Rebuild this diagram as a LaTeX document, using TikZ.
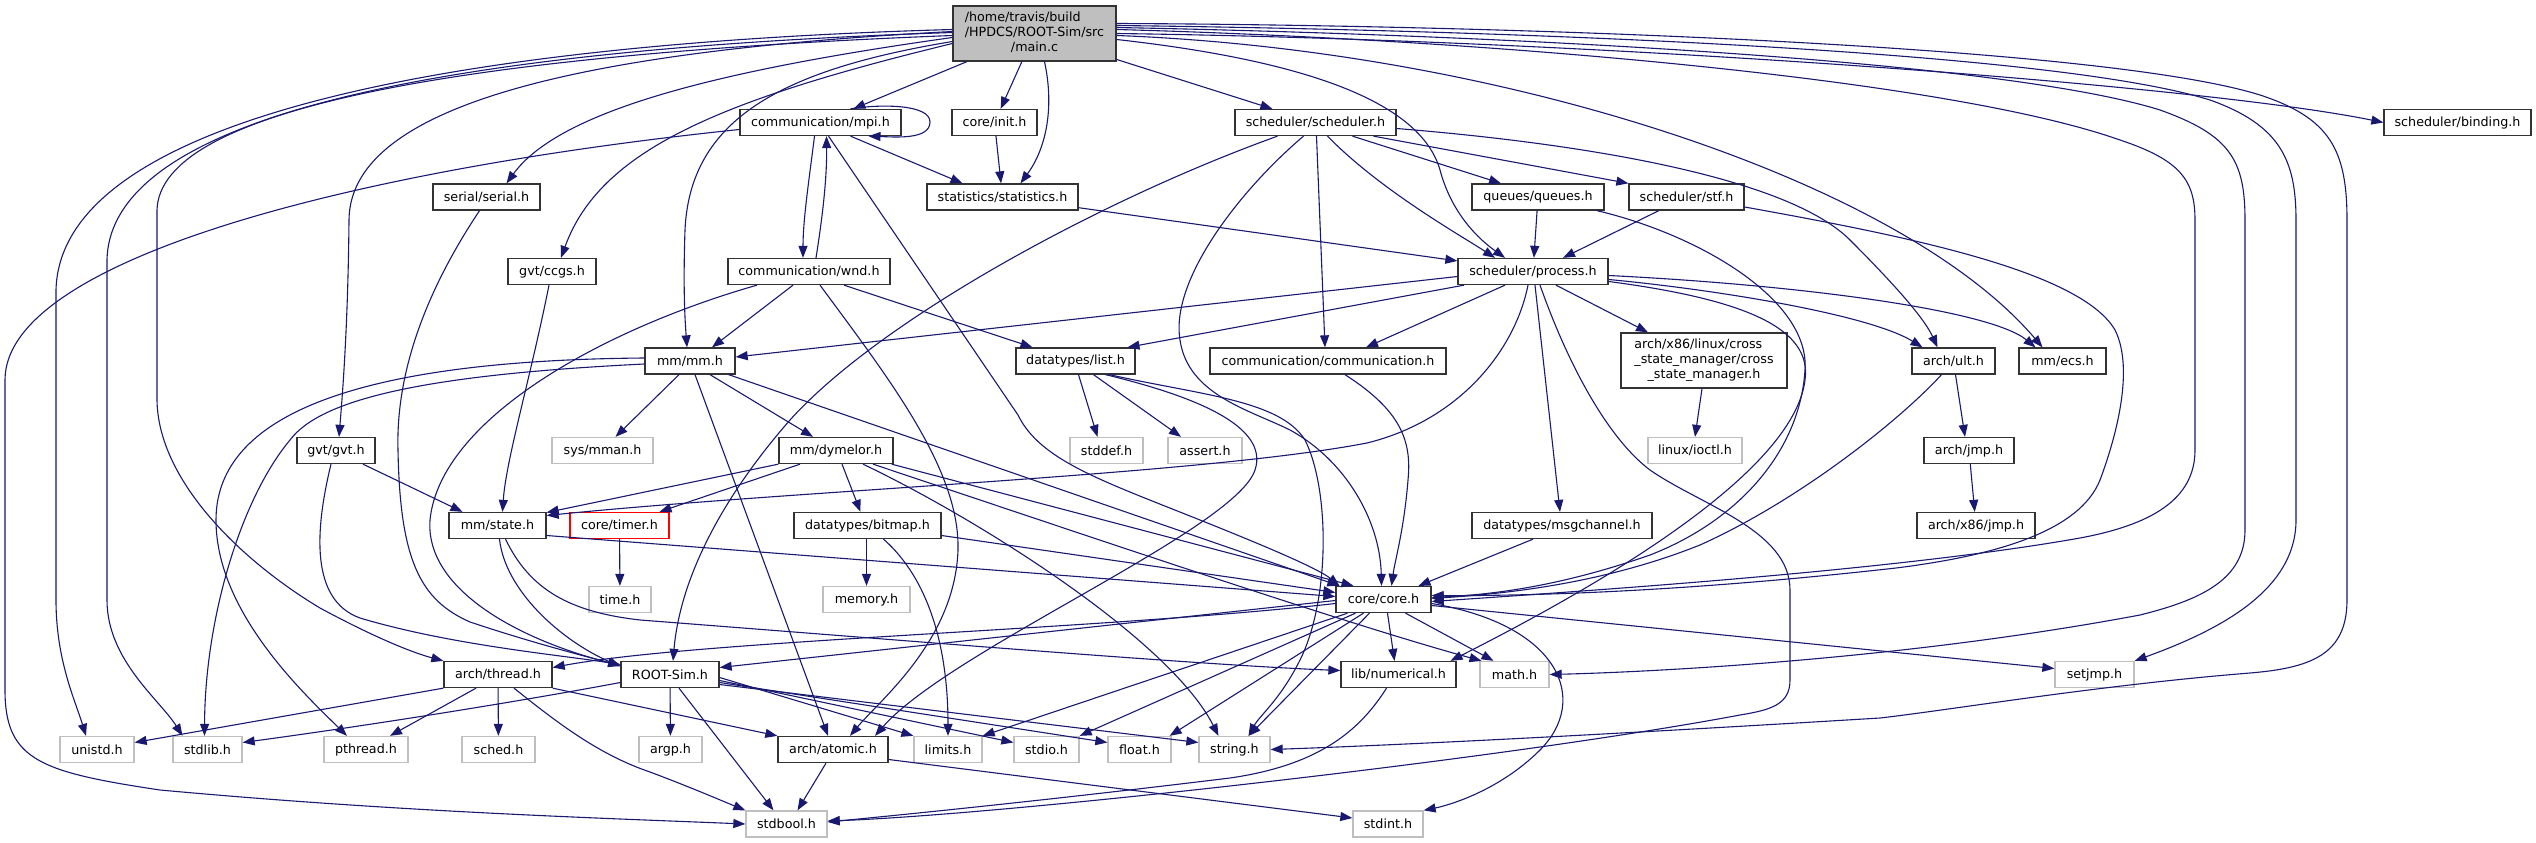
\documentclass[tikz,border=0pt]{standalone}
\usepackage{fontspec}
\setmainfont{DejaVu Sans}
\usetikzlibrary{arrows.meta}
\definecolor{edgecol}{HTML}{191970}
\definecolor{boxgray}{HTML}{BFBFBF}
\begin{document}
\begin{tikzpicture}[x=1pt,y=-1pt,
  box/.style={draw=black!80, line width=1.3pt, fill=white, rectangle, inner xsep=4pt, inner ysep=0pt,
    minimum height=26pt, font=\fontsize{12.7pt}{14.7pt}\selectfont, text=black},
  sys/.style={box, draw=boxgray},
  redbox/.style={box, draw=red},
  edge/.style={draw=edgecol, line width=1.1pt, -{Triangle[length=12pt,width=9pt]}}]
\fill[white] (0,0) rectangle (2536,843);
\useasboundingbox (0,0) rectangle (2536,843);

% ---------------- nodes ----------------
\node[box, fill=boxgray, minimum width=163pt, minimum height=55pt] (main) at (1034.5,33.5)
  {\begin{tabular}{@{}l@{}}/home/travis/build\\/HPDCS/ROOT-Sim/src\\\multicolumn{1}{@{}c@{}}{/main.c}\end{tabular}};
\node[box, minimum width=161pt] (mpi) at (820.5,122.5) {communication/mpi.h};
\node[box, minimum width=85pt] (init) at (994.5,122.5) {core/init.h};
\node[box, minimum width=161pt] (sched) at (1315.5,122.5) {scheduler/scheduler.h};
\node[box, minimum width=147pt] (binding) at (2457.5,122.5) {scheduler/binding.h};
\node[box, minimum width=107pt] (serial) at (486.5,197) {serial/serial.h};
\node[box, minimum width=151pt] (stats) at (1002.5,197) {statistics/statistics.h};
\node[box, minimum width=132pt] (queues) at (1538,197) {queues/queues.h};
\node[box, minimum width=115pt] (stf) at (1686.5,197) {scheduler/stf.h};
\node[box, minimum width=88pt] (ccgs) at (552,271.5) {gvt/ccgs.h};
\node[box, minimum width=162pt] (wnd) at (809,271.5) {communication/wnd.h};
\node[box, minimum width=150pt] (process) at (1533,271.5) {scheduler/process.h};
\node[box, minimum width=90pt] (mm) at (690,361) {mm/mm.h};
\node[box, minimum width=119pt] (list) at (1075.5,361) {datatypes/list.h};
\node[box, minimum width=236pt] (comm) at (1328,361) {communication/communication.h};
\node[box, minimum width=166pt, minimum height=55pt] (csm) at (1704,360.5)
  {\begin{tabular}{@{}l@{}}arch/x86/linux/cross\\\_state\_manager/cross\\\multicolumn{1}{@{}c@{}}{\_state\_manager.h}\end{tabular}};
\node[box, minimum width=83pt] (ult) at (1953.5,361) {arch/ult.h};
\node[box, minimum width=87pt] (ecs) at (2062.5,361) {mm/ecs.h};
\node[box, minimum width=78pt] (gvt) at (336,450.5) {gvt/gvt.h};
\node[sys, minimum width=101pt] (mman) at (602.5,450.5) {sys/mman.h};
\node[box, minimum width=114pt] (dymelor) at (836,450.5) {mm/dymelor.h};
\node[sys, minimum width=73pt] (stddef) at (1106.5,450.5) {stddef.h};
\node[sys, minimum width=74pt] (assert) at (1205,450.5) {assert.h};
\node[sys, minimum width=94pt] (ioctl) at (1695,450.5) {linux/ioctl.h};
\node[box, minimum width=90pt] (jmp) at (1969,450.5) {arch/jmp.h};
\node[box, minimum width=97pt] (state) at (497.5,525.5) {mm/state.h};
\node[redbox, minimum width=99pt] (timer) at (619.5,525.5) {core/timer.h};
\node[box, minimum width=147pt] (bitmap) at (867.5,525.5) {datatypes/bitmap.h};
\node[box, minimum width=180pt] (msgch) at (1562,525.5) {datatypes/msgchannel.h};
\node[box, minimum width=118pt] (x86jmp) at (1976,525.5) {arch/x86/jmp.h};
\node[sys, minimum width=62pt] (time) at (620,599.5) {time.h};
\node[sys, minimum width=87pt] (memory) at (866.5,599.5) {memory.h};
\node[box, minimum width=95pt] (core) at (1383.5,599.5) {core/core.h};
\node[box, minimum width=108pt] (thread) at (498,674.5) {arch/thread.h};
\node[box, minimum width=98pt] (rootsim) at (670,674.5) {ROOT-Sim.h};
\node[box, minimum width=115pt] (numerical) at (1398.5,674.5) {lib/numerical.h};
\node[sys, minimum width=69pt] (math) at (1514.5,674.5) {math.h};
\node[sys, minimum width=79pt] (setjmp) at (2094.5,674.5) {setjmp.h};
\node[sys, minimum width=74pt] (unistd) at (97,749.5) {unistd.h};
\node[sys, minimum width=69pt] (stdlib) at (207.5,749.5) {stdlib.h};
\node[sys, minimum width=84pt] (pthread) at (366,749.5) {pthread.h};
\node[sys, minimum width=73pt] (schedh) at (498.5,749.5) {sched.h};
\node[sys, minimum width=63pt] (argp) at (670.5,749.5) {argp.h};
\node[box, minimum width=110pt] (atomic) at (833,749.5) {arch/atomic.h};
\node[sys, minimum width=68pt] (limits) at (948,749.5) {limits.h};
\node[sys, minimum width=65pt] (stdio) at (1046.5,749.5) {stdio.h};
\node[sys, minimum width=63pt] (floath) at (1139.5,749.5) {float.h};
\node[sys, minimum width=71pt] (string) at (1234.5,749.5) {string.h};
\node[sys, minimum width=81pt] (stdbool) at (786.5,824) {stdbool.h};
\node[sys, minimum width=70pt] (stdint) at (1388,824) {stdint.h};

% ---------------- edges ----------------
% main.c
\draw[edge] (main) -- (mpi);
\draw[edge] (main) -- (init);
\draw[edge] ([xshift=10pt]main.south) .. controls (1055,110) and (1045,150) .. ([xshift=18pt]stats.north);
\draw[edge] (main) -- (sched);
\draw[edge] (main.east) .. controls (1600,40) and (2200,85) .. (binding.west);
\draw[edge] ([yshift=-6pt]main.east) .. controls (1300,60) and (1420,100) .. (1440,170) .. controls (1452,215) and (1480,240) .. ([xshift=-28pt]process.north);
\draw[edge] ([yshift=-8pt]main.west) .. controls (780,70) and (690,120) .. (685,230) .. controls (683,290) and (685,320) .. ([xshift=-3pt]mm.north);
\draw[edge] ([yshift=-4pt]main.west) .. controls (720,70) and (560,110) .. ([xshift=20pt]serial.north);
\draw[edge] ([yshift=-10pt]main.west) .. controls (720,100) and (600,150) .. ([xshift=9pt]ccgs.north);
\draw[edge] ([yshift=2pt]main.west) .. controls (600,50) and (350,100) .. (349,220) .. controls (348,330) and (342,400) .. ([xshift=3pt]gvt.north);
\draw[edge] ([yshift=-2pt]main.west) .. controls (450,55) and (160,110) .. (157,210) -- (157,400) .. controls (158,480) and (240,560) .. (320,608) .. controls (370,635) and (410,652) .. (thread.north west);
\draw[edge] ([yshift=4pt]main.west) .. controls (400,45) and (60,130) .. (56,290) -- (56,600) .. controls (56,660) and (75,700) .. ([xshift=-11pt]unistd.north);
\draw[edge] ([yshift=1pt]main.west) .. controls (420,50) and (110,120) .. (107,260) -- (107,600) .. controls (107,660) and (160,700) .. ([xshift=-25pt]stdlib.north);
\draw[edge] ([yshift=-2pt]main.east) .. controls (1500,50) and (1900,180) .. ([xshift=-20pt]ecs.north);
\draw[edge] ([yshift=4pt]main.east) .. controls (1500,40) and (1950,80) .. (2120,140) .. controls (2180,160) and (2195,180) .. (2195,220) -- (2195,450) .. controls (2195,500) and (2150,525) .. (2080,538) .. controls (1900,570) and (1600,590) .. ([yshift=-2pt]core.east);
\draw[edge] ([yshift=6pt]main.east) .. controls (1500,35) and (2000,60) .. (2160,110) .. controls (2230,135) and (2245,160) .. (2245,220) -- (2245,530) .. controls (2245,580) and (2200,600) .. (2140,615) .. controls (1900,660) and (1650,672) .. (math.east);
\draw[edge] ([yshift=8pt]main.east) .. controls (1500,30) and (2050,50) .. (2210,100) .. controls (2280,125) and (2296,160) .. (2296,220) -- (2296,520) .. controls (2296,590) and (2220,630) .. (setjmp.north east);
\draw[edge] ([yshift=10pt]main.east) .. controls (1500,25) and (2100,45) .. (2260,95) .. controls (2330,118) and (2347,150) .. (2347,220) -- (2347,600) .. controls (2347,655) and (2310,668) .. (2250,673) .. controls (2100,685) and (1950,710) .. (1880,718) .. controls (1600,735) and (1400,745) .. (string.east);
% mpi
\draw[edge] ([xshift=30pt]mpi.north) .. controls (880,104) and (930,104) .. (930,122) .. controls (930,140) and (895,137) .. ([xshift=48pt]mpi.south);
\draw[edge] ([xshift=-6pt]mpi.south) .. controls (809,180) and (803,220) .. ([xshift=-6pt]wnd.north);
\draw[edge] ([xshift=7pt]wnd.north) .. controls (822,220) and (827,180) .. ([xshift=6pt]mpi.south);
\draw[edge] ([xshift=30pt]mpi.south) -- ([xshift=-40pt]stats.north);
\draw[edge] ([xshift=8pt]mpi.south) -- (1018,415) .. controls (1040,460) and (1100,480) .. (1200,520) .. controls (1280,552) and (1320,570) .. ([xshift=-44pt]core.north);
\draw[edge] ([yshift=-7pt]mpi.west) .. controls (350,170) and (5,260) .. (5,380) -- (5,690) .. controls (5,760) and (40,772) .. (160,790) .. controls (400,812) and (600,818) .. (stdbool.west);
% init, stats
\draw[edge] (init) -- (stats);
\draw[edge] (stats) -- (process);
% scheduler
\draw[edge] ([xshift=-38pt]sched.south) .. controls (1100,200) and (880,320) .. (790,420) .. controls (720,500) and (680,580) .. ([xshift=3pt]rootsim.north);
\draw[edge] ([xshift=-12pt]sched.south) .. controls (1240,190) and (1170,280) .. (1180,340) .. controls (1188,395) and (1250,410) .. (1290,430) .. controls (1345,460) and (1380,520) .. ([xshift=-2pt]core.north);
\draw[edge] ([xshift=1pt]sched.south) -- ([xshift=-3pt]comm.north);
\draw[edge] ([xshift=12pt]sched.south) .. controls (1380,190) and (1460,235) .. ([xshift=-38pt]process.north);
\draw[edge] ([xshift=37pt]sched.south) -- ([xshift=-37pt]queues.north);
\draw[edge] ([xshift=58pt]sched.south) -- (stf.north west);
\draw[edge] ([yshift=-6pt]sched.east) .. controls (1600,145) and (1790,180) .. (1850,240) .. controls (1900,290) and (1925,320) .. ([xshift=-16pt]ult.north);
% queues, stf
\draw[edge] (queues) -- (process);
\draw[edge] ([xshift=59pt]queues.south) .. controls (1700,235) and (1810,300) .. (1805,370) .. controls (1800,450) and (1740,520) .. (1650,555) .. controls (1550,590) and (1480,595) .. ([yshift=2pt]core.east);
\draw[edge] (stf) -- ([xshift=30pt]process.north);
\draw[edge] ([yshift=-10pt]stf.east) .. controls (1900,235) and (2080,270) .. (2115,330) .. controls (2135,370) and (2115,440) .. (2100,480) .. controls (2080,530) and (2000,555) .. (1896,568) .. controls (1700,590) and (1550,596) .. ([yshift=4pt]core.east);
% process
\draw[edge] ([yshift=-5pt]process.west) -- ([yshift=4pt]mm.east);
\draw[edge] ([xshift=-69pt]process.south) -- ([xshift=52pt]list.north);
\draw[edge] ([xshift=-28pt]process.south) -- ([xshift=38pt]comm.north);
\draw[edge] ([xshift=-5pt]process.south) .. controls (1515,350) and (1460,420) .. (1367,443) .. controls (1200,475) and (800,490) .. ([yshift=10pt]state.east);
\draw[edge] ([xshift=2pt]process.south) -- ([xshift=-2pt]msgch.north);
\draw[edge] ([xshift=23pt]process.south) -- ([xshift=-56pt]csm.north);
\draw[edge] ([yshift=-8pt]process.east) .. controls (1720,290) and (1870,315) .. ([xshift=-31pt]ult.north);
\draw[edge] ([yshift=-4pt]process.east) .. controls (1800,285) and (1990,310) .. ([xshift=-27pt]ecs.north);
\draw[edge] ([xshift=7pt]process.south) .. controls (1570,370) and (1610,440) .. (1650,470) .. controls (1700,505) and (1790,530) .. (1790,590) -- (1790,680) .. controls (1790,705) and (1770,710) .. (1740,715) .. controls (1500,760) and (1000,815) .. ([yshift=3pt]stdbool.east);
\draw[edge] ([yshift=-10pt]process.east) .. controls (1750,300) and (1812,330) .. (1805,380) .. controls (1795,460) and (1650,560) .. ([xshift=52pt]numerical.north);
% ult, jmp, csm
\draw[edge] ([xshift=-12pt]ult.south) .. controls (1900,420) and (1800,500) .. (1700,545) .. controls (1600,585) and (1500,594) .. ([yshift=1pt]core.east);
\draw[edge] ([xshift=2pt]ult.south) -- ([xshift=-4pt]jmp.north);
\draw[edge] (jmp) -- (x86jmp);
\draw[edge] ([xshift=-2pt]csm.south) -- (ioctl.north);
% comm, msgchannel
\draw[edge] ([xshift=17pt]comm.south) .. controls (1400,410) and (1412,440) .. (1408,480) .. controls (1404,530) and (1395,560) .. ([xshift=8pt]core.north);
\draw[edge] ([xshift=-29pt]msgch.south) -- ([xshift=35pt]core.north);
% list
\draw[edge] ([xshift=3pt]list.south) -- ([xshift=-9pt]stddef.north);
\draw[edge] ([xshift=18pt]list.south) -- ([xshift=-24pt]assert.north);
\draw[edge] ([xshift=30pt]list.south) .. controls (1190,395) and (1270,425) .. (1255,470) .. controls (1235,530) and (950,650) .. ([xshift=42pt]atomic.north);
\draw[edge] ([xshift=34pt]list.south) .. controls (1200,395) and (1280,400) .. (1305,440) .. controls (1330,490) and (1330,600) .. (1300,660) .. controls (1280,700) and (1260,715) .. ([xshift=14pt]string.north);
% wnd
\draw[edge] ([xshift=-52pt]wnd.south) .. controls (600,330) and (440,420) .. (430,520) .. controls (425,590) and (520,640) .. ([yshift=9pt]rootsim.west);
\draw[edge] ([xshift=-16pt]wnd.south) -- ([xshift=22pt]mm.north);
\draw[edge] ([xshift=35pt]wnd.south) -- ([xshift=-43pt]list.north);
\draw[edge] ([xshift=11pt]wnd.south) .. controls (890,380) and (960,470) .. (958,550) .. controls (955,640) and (880,700) .. ([xshift=17pt]atomic.north);
% mm
\draw[edge] ([xshift=-11pt]mm.south) -- ([xshift=13pt]mman.north);
\draw[edge] ([xshift=20pt]mm.south) -- ([xshift=-23pt]dymelor.north);
\draw[edge] ([xshift=5pt]mm.south) -- ([xshift=-5pt]atomic.north);
\draw[edge] ([xshift=-7pt]mm.south east) -- ([xshift=4pt]core.north west);
\draw[edge] ([yshift=3pt]mm.west) .. controls (400,360) and (216,400) .. (216,520) .. controls (216,610) and (300,690) .. ([xshift=-19pt]pthread.north);
\draw[edge] ([yshift=-3pt]mm.west) .. controls (420,375) and (320,400) .. (290,440) .. controls (240,500) and (205,620) .. ([xshift=-3pt]stdlib.north);
% gvt, serial, ccgs
\draw[edge] ([xshift=27pt]gvt.south) -- ([xshift=-35pt]state.north);
\draw[edge] ([xshift=-5pt]gvt.south) .. controls (315,530) and (310,600) .. (360,618) .. controls (450,645) and (560,655) .. ([yshift=10pt]rootsim.west);
\draw[edge] ([xshift=-7pt]serial.south) .. controls (420,300) and (396,380) .. (398,450) .. controls (400,560) and (420,600) .. (470,622) .. controls (530,642) and (580,655) .. ([yshift=9pt]rootsim.west);
\draw[edge] ([xshift=-3pt]ccgs.south) .. controls (530,380) and (506,460) .. ([xshift=5pt]state.north);
% state
\draw[edge] ([yshift=-10pt]state.east) -- ([yshift=3pt]core.west);
\draw[edge] ([xshift=2pt]state.south) .. controls (505,590) and (560,640) .. ([yshift=8pt]rootsim.west);
\draw[edge] ([xshift=8pt]state.south) .. controls (530,590) and (570,612) .. (640,620) .. controls (900,640) and (1200,665) .. ([yshift=4pt]numerical.west);
% dymelor
\draw[edge] (dymelor.south west) -- ([yshift=13pt]state.east);
\draw[edge] ([xshift=-36pt]dymelor.south) -- ([xshift=40pt]timer.north);
\draw[edge] ([xshift=6pt]dymelor.south) -- ([xshift=-7pt]bitmap.north);
\draw[edge] ([xshift=-2pt]dymelor.south east) -- ([xshift=-30pt]core.north);
\draw[edge] ([xshift=37pt]dymelor.south) .. controls (1100,540) and (1350,625) .. ([xshift=-33pt]math.north);
\draw[edge] ([xshift=27pt]dymelor.south) .. controls (980,520) and (1170,640) .. ([xshift=-16pt]string.north);
% timer, bitmap
\draw[edge] (timer) -- (time);
\draw[edge] ([xshift=-1pt]bitmap.south) -- (memory.north);
\draw[edge] ([xshift=16pt]bitmap.south) .. controls (930,580) and (948,650) .. (limits.north);
\draw[edge] ([yshift=-10pt]bitmap.east) -- ([yshift=7pt]core.west);
% core
\draw[edge] ([yshift=-1pt]core.west) -- ([yshift=7pt]rootsim.east);
\draw[edge] ([yshift=-4pt]core.west) .. controls (1100,630) and (700,640) .. ([yshift=7pt]thread.east);
\draw[edge] ([xshift=4pt]core.south) -- ([xshift=-4pt]numerical.north);
\draw[edge] ([xshift=22pt]core.south) -- ([xshift=-21pt]math.north);
\draw[edge] ([xshift=-36pt]core.south) -- (limits.north east);
\draw[edge] ([xshift=-28pt]core.south) -- (stdio.north east);
\draw[edge] ([xshift=-20pt]core.south) -- ([xshift=-2pt]floath.north east);
\draw[edge] ([xshift=-14pt]core.south) -- ([xshift=-22pt]string.north east);
\draw[edge] ([yshift=-6pt]core.east) -- ([yshift=6pt]setjmp.west);
\draw[edge] ([yshift=-4pt]core.east) .. controls (1560,625) and (1590,700) .. (1540,750) .. controls (1500,790) and (1450,805) .. (stdint.north east);
% ROOT-Sim
\draw[edge] (rootsim) -- (argp);
\draw[edge] ([xshift=9pt]rootsim.south) -- ([xshift=-13pt]stdbool.north);
\draw[edge] ([yshift=-8pt]rootsim.west) .. controls (500,705) and (350,728) .. ([yshift=7pt]stdlib.east);
\draw[edge] ([yshift=-3pt]rootsim.east) -- (limits.north west);
\draw[edge] ([yshift=-6pt]rootsim.east) -- ([yshift=7pt]stdio.west);
\draw[edge] ([yshift=-8pt]rootsim.east) -- ([yshift=7pt]floath.west);
\draw[edge] ([yshift=-10pt]rootsim.east) -- ([yshift=7pt]string.west);
% thread
\draw[edge] (thread.south west) -- ([yshift=7pt]unistd.east);
\draw[edge] ([xshift=-22pt]thread.south) -- ([xshift=24pt]pthread.north);
\draw[edge] (thread) -- (schedh);
\draw[edge] ([xshift=16pt]thread.south) .. controls (560,725) and (600,755) .. (650,772) .. controls (690,787) and (720,800) .. (stdbool.north west);
\draw[edge] (thread.south east) -- (atomic.north west);
% atomic, numerical
\draw[edge] ([xshift=-7pt]atomic.south) -- ([xshift=11pt]stdbool.north);
\draw[edge] ([yshift=-10pt]atomic.east) -- ([yshift=6pt]stdint.west);
\draw[edge] ([xshift=-12pt]numerical.south) .. controls (1360,730) and (1320,765) .. (1230,778) .. controls (1050,800) and (900,815) .. ([yshift=2pt]stdbool.east);
\end{tikzpicture}
\end{document}
